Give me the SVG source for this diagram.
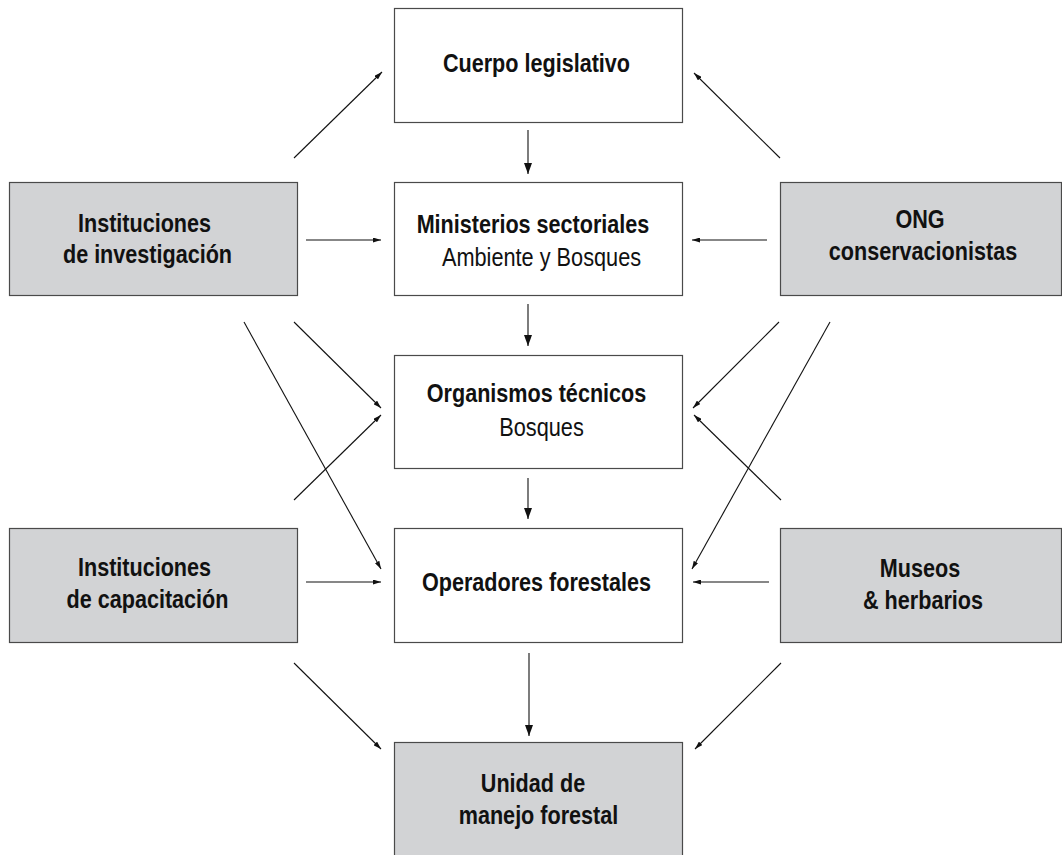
<svg xmlns="http://www.w3.org/2000/svg" width="1062" height="855" viewBox="0 0 1062 855">
<style>
.box{stroke:#4a4a4a;stroke-width:1.2}
.w{fill:#ffffff}
.g{fill:#d2d3d5}
.t{font-family:"Liberation Sans",Arial,sans-serif;font-size:26.5px;fill:#111;text-anchor:middle}
.b{font-weight:bold}
.c line{stroke:#111;stroke-width:1.1}
.s{marker-end:url(#ah)}
.l{marker-end:url(#ahl)}
</style>
<defs>
<marker id="ah" viewBox="0 0 8 5" refX="8" refY="2.5" markerWidth="8" markerHeight="5" markerUnits="userSpaceOnUse" orient="auto"><path d="M0,0 L8,2.5 L0,5 z" fill="#111"/></marker>
<marker id="ahl" viewBox="0 0 11 8" refX="11" refY="4" markerWidth="11" markerHeight="8" markerUnits="userSpaceOnUse" orient="auto"><path d="M0,0 L11,4 L0,8 z" fill="#111"/></marker>
</defs>
<rect width="1062" height="855" fill="#ffffff"/>
<g class="c" id="connectors">
<line class="s" x1="294" y1="158" x2="382" y2="72"/>
<line class="s" x1="780" y1="158" x2="694" y2="73"/>
<line class="l" x1="528" y1="130" x2="528" y2="174"/>
<line class="l" x1="528" y1="304" x2="528" y2="346"/>
<line class="l" x1="528" y1="478" x2="528" y2="519"/>
<line class="l" x1="529" y1="653" x2="529" y2="736"/>
<line class="s" x1="306" y1="240" x2="381" y2="240"/>
<line class="s" x1="767" y1="240" x2="692" y2="240"/>
<line class="s" x1="294" y1="322" x2="381" y2="408"/>
<line class="s" x1="244" y1="322" x2="381" y2="569"/>
<line class="s" x1="294" y1="500" x2="381" y2="415"/>
<line class="s" x1="306" y1="582" x2="381" y2="582"/>
<line class="s" x1="294" y1="663" x2="381" y2="749"/>
<line class="s" x1="779" y1="322" x2="693" y2="408"/>
<line class="s" x1="830" y1="322" x2="692" y2="569"/>
<line class="s" x1="781" y1="500" x2="694" y2="415"/>
<line class="s" x1="769" y1="582" x2="693" y2="582"/>
<line class="s" x1="781" y1="663" x2="695" y2="749"/>
</g>
<g id="cuerpo">
<rect class="box w" x="394.5" y="8.5" width="288" height="114"/>
<text class="t b" transform="translate(536.5,72) scale(0.815,1)">Cuerpo legislativo</text>
</g>
<g id="ministerios">
<rect class="box w" x="394.5" y="182.5" width="288" height="113"/>
<text class="t b" transform="translate(533,233) scale(0.815,1)">Ministerios sectoriales</text>
<text class="t" transform="translate(541.5,266) scale(0.82,1)">Ambiente y Bosques</text>
</g>
<g id="organismos">
<rect class="box w" x="394.5" y="355.5" width="288" height="113"/>
<text class="t b" transform="translate(536.5,402) scale(0.815,1)">Organismos técnicos</text>
<text class="t" transform="translate(541.5,436) scale(0.82,1)">Bosques</text>
</g>
<g id="operadores">
<rect class="box w" x="394.5" y="528.5" width="288" height="114"/>
<text class="t b" transform="translate(536.5,591) scale(0.815,1)">Operadores forestales</text>
</g>
<g id="unidad">
<rect class="box g" x="394.5" y="742.5" width="288" height="120"/>
<text class="t b" transform="translate(533,792) scale(0.815,1)">Unidad de</text>
<text class="t b" transform="translate(538.5,824) scale(0.815,1)">manejo forestal</text>
</g>
<g id="investigacion">
<rect class="box g" x="9.5" y="182.5" width="288" height="113"/>
<text class="t b" transform="translate(144.5,232) scale(0.815,1)">Instituciones</text>
<text class="t b" transform="translate(147.5,263) scale(0.815,1)">de investigación</text>
</g>
<g id="capacitacion">
<rect class="box g" x="9.5" y="528.5" width="288" height="114"/>
<text class="t b" transform="translate(144.5,576) scale(0.815,1)">Instituciones</text>
<text class="t b" transform="translate(147.5,608) scale(0.815,1)">de capacitación</text>
</g>
<g id="ong">
<rect class="box g" x="780.5" y="182.5" width="281" height="113"/>
<text class="t b" transform="translate(920,228) scale(0.815,1)">ONG</text>
<text class="t b" transform="translate(923,260) scale(0.815,1)">conservacionistas</text>
</g>
<g id="museos">
<rect class="box g" x="780.5" y="528.5" width="281" height="114"/>
<text class="t b" transform="translate(920,577) scale(0.815,1)">Museos</text>
<text class="t b" transform="translate(923,609) scale(0.815,1)">&amp; herbarios</text>
</g>
</svg>
